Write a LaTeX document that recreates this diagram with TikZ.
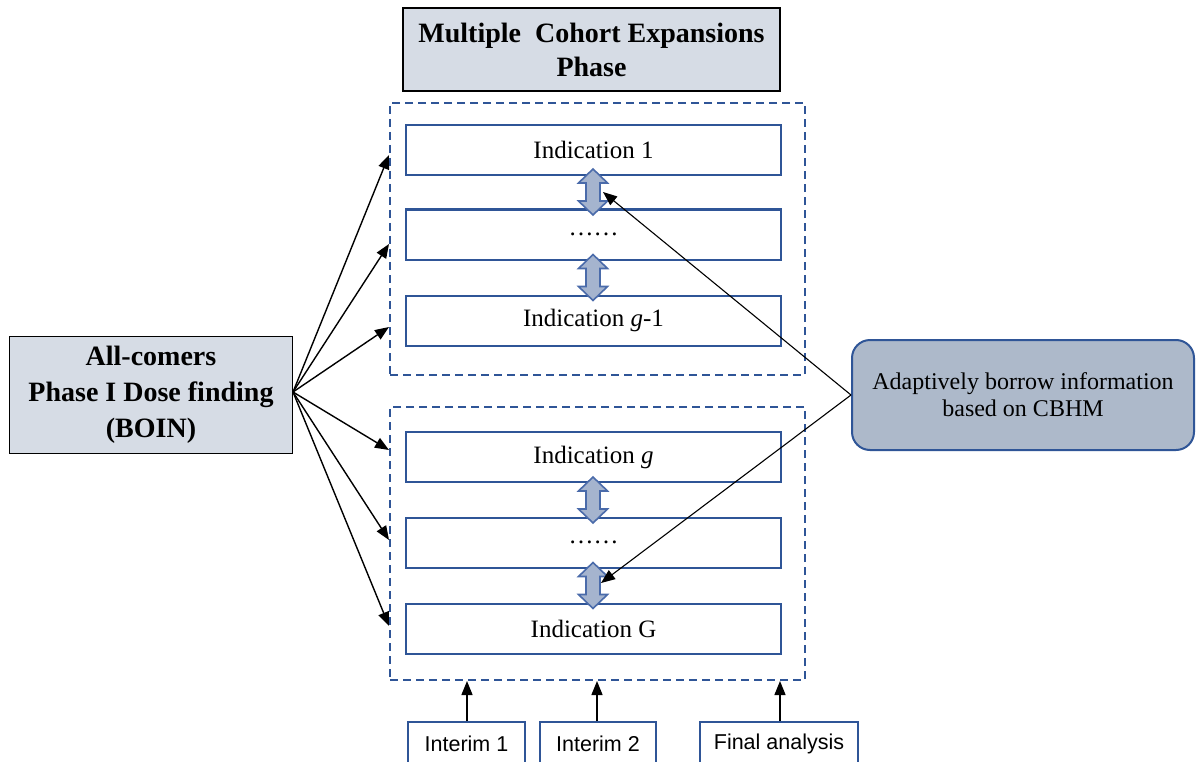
\documentclass[tikz,border=0pt]{standalone}
\usepackage{fontspec}
\setmainfont{Liberation Serif}
\newfontfamily\arialf{Liberation Sans}
\usetikzlibrary{arrows.meta}
\definecolor{boxblue}{HTML}{2F5597}
\definecolor{titlefill}{HTML}{D6DCE5}
\definecolor{cbhmfill}{HTML}{ADB9CA}
\definecolor{dblfill}{HTML}{A5B4CE}
\definecolor{dblline}{HTML}{4A6BAA}
\tikzset{
  hdr/.style={draw=black, line width=1.5pt, fill=titlefill, align=center, inner sep=0pt,
    font=\fontsize{28}{34}\selectfont\bfseries},
  indbox/.style={draw=boxblue, line width=2pt, minimum width=375pt, minimum height=50pt,
    inner sep=0pt, font=\fontsize{25}{28}\selectfont},
  dashbox/.style={draw=boxblue, line width=2pt, dash pattern=on 8pt off 5pt,
    minimum width=415pt, inner sep=0pt},
  cbhm/.style={draw=boxblue, line width=2pt, fill=cbhmfill, rounded corners=18pt,
    minimum width=342pt, minimum height=110pt, align=center, inner sep=0pt,
    font=\fontsize{24}{27}\selectfont},
  anbox/.style={draw=boxblue, line width=2pt, minimum height=44pt, inner sep=0pt,
    font=\arialf\fontsize{21.5}{24}\selectfont},
  arr/.style={line width=1.4pt, -{Triangle[length=14pt,width=11pt]}},
  thin arr/.style={line width=1.1pt, -{Triangle[length=14pt,width=11pt]}},
  dbl/.pic={\draw[line width=1.6pt, draw=dblline, fill=dblfill, line join=miter]
    (0,-23) -- (14.5,-9) -- (7,-9) -- (7,9) -- (14.5,9) -- (0,23) -- (-14.5,9)
    -- (-7,9) -- (-7,-9) -- (-14.5,-9) -- cycle;}
}
\begin{document}
\begin{tikzpicture}[x=1pt,y=-1pt]
\path[use as bounding box, clip] (0,0) rectangle (1196,762);
\fill[white] (0,0) rectangle (1196,762);

% title
\node[hdr, minimum width=377pt, minimum height=83pt] (title) at (591.5,49.5)
  {Multiple~ Cohort Expansions\\Phase};

% dashed groups
\node[dashbox, minimum height=272pt] (d1) at (597.5,239) {};
\node[dashbox, minimum height=273pt] (d2) at (597.5,543.5) {};

% indication boxes
\node[indbox] (i1) at (593.5,150) {Indication 1};
\node[indbox] (i2) at (593.5,234.5) {\char"2026\char"2026};
\node[indbox] (i3) at (593.5,320.5) {Indication \textit{g}-1};
\node[indbox] (i4) at (593.5,457) {Indication \textit{g}};
\node[indbox] (i5) at (593.5,542.5) {\char"2026\char"2026};
\node[indbox] (i6) at (593.5,629) {Indication G};

% double arrows
\pic at (593,192) {dbl};
\pic at (593,277.5) {dbl};
\pic at (593,500) {dbl};
\pic at (593,585.5) {dbl};

% all-comers
\node[hdr, minimum width=283pt, minimum height=117pt, font=\fontsize{28}{36}\selectfont\bfseries]
  (all) at (151,395) {All-comers\\Phase I Dose finding\\(BOIN)};
\coordinate (src) at (293,392);
\foreach \y in {155,244,327,450,540,626}
  \draw[arr] (src) -- (d1.west |- 0,\y);

% CBHM
\node[cbhm] (cb) at (1023,395) {Adaptively borrow information\\based on CBHM};
\coordinate (tipA) at (603,192);
\coordinate (tipB) at (601,583);
\draw[thin arr] (cb.west) -- (tipA);
\draw[thin arr] (cb.west) -- (tipB);

% analysis boxes
\node[anbox, minimum width=117pt] (int1) at (466.5,744) {Interim 1};
\node[anbox, minimum width=116pt] (int2) at (598,744) {Interim 2};
\node[anbox, minimum width=158pt] (fin) at (779,744) {Final analysis};
\draw[arr] (int1.north -| 467,0) -- (d2.south -| 467,0);
\draw[arr] (int2.north -| 597,0) -- (d2.south -| 597,0);
\draw[arr] (fin.north -| 780,0) -- (d2.south -| 780,0);
\end{tikzpicture}
\end{document}
